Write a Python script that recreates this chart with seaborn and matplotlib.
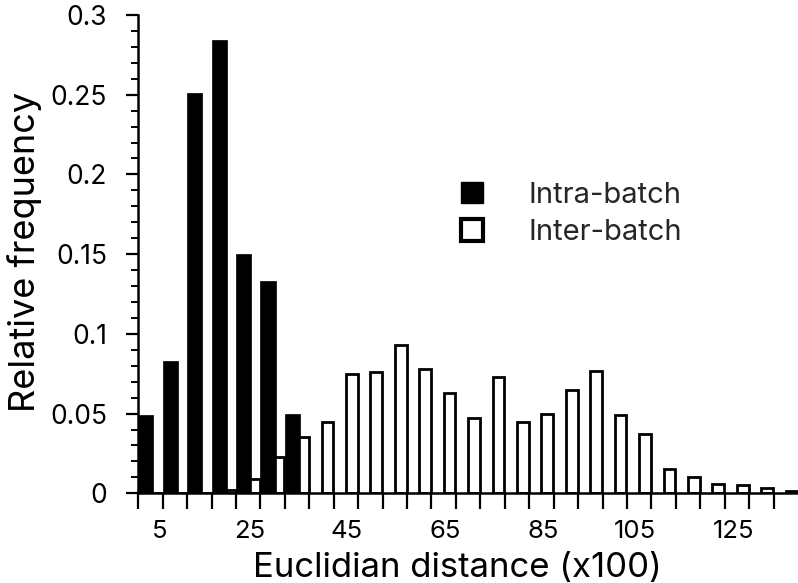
import matplotlib
matplotlib.use("Agg")
import matplotlib.pyplot as plt
from matplotlib.patches import Patch
from matplotlib.ticker import FixedLocator, MultipleLocator, FuncFormatter
from matplotlib.transforms import ScaledTranslation
import pandas as pd
import seaborn as sns

# Lower edge of each 5-unit distance bin (Euclidian distance x100)
bin_start = [0, 5, 10, 15, 20, 25, 30, 35, 40, 45, 50, 55, 60, 65,
             70, 75, 80, 85, 90, 95, 100, 105, 110, 115, 120, 125, 130]

# Relative frequency of pairwise distances within one batch
intra_batch = [0.049, 0.083, 0.251, 0.284, 0.150, 0.133, 0.050, 0, 0, 0,
               0, 0, 0, 0, 0, 0, 0, 0, 0, 0, 0, 0, 0, 0, 0, 0, 0]

# Relative frequency of pairwise distances between batches
inter_batch = [0, 0, 0, 0.002, 0.009, 0.023, 0.035, 0.045, 0.075, 0.076,
               0.093, 0.078, 0.063, 0.047, 0.073, 0.045, 0.050, 0.065,
               0.077, 0.049, 0.037, 0.015, 0.010, 0.006, 0.005, 0.003, 0.0015]

x_labels = [5, 25, 45, 65, 85, 105, 125]
series_names = ["Intra-batch", "Inter-batch"]

sns.set_theme(style="ticks")
plt.rcParams["font.family"] = ["Inter", "DejaVu Sans"]

BIN = 5.0
INTRA_W = 3.1      # filled bar sits at the left of its bin
INTER_W = 2.4      # open bar sits at the right of its bin

df_intra = pd.DataFrame({"pos": [s + INTRA_W / 2 for s in bin_start],
                         "freq": intra_batch})
df_inter = pd.DataFrame({"pos": [s + BIN - 0.1 - INTER_W / 2 for s in bin_start],
                         "freq": inter_batch})

fig = plt.figure(figsize=(7.98, 5.83), dpi=100)
ax = fig.add_axes([0.1733, 0.1539, 0.8267, 0.8204])

sns.barplot(data=df_inter, x="pos", y="freq", native_scale=True,
            width=INTER_W / BIN, color="white", saturation=1,
            edgecolor="black", linewidth=2.0, errorbar=None,
            ax=ax, zorder=2)
sns.barplot(data=df_intra, x="pos", y="freq", native_scale=True,
            width=INTRA_W / BIN, color="black", saturation=1,
            edgecolor="black", linewidth=0.5, errorbar=None,
            ax=ax, zorder=3)

ax.set_xlim(0, 135)
ax.set_ylim(0, 0.3)

sns.despine(ax=ax)
for side in ("left", "bottom"):
    ax.spines[side].set_linewidth(1.8)
    ax.spines[side].set_color("black")

ax.xaxis.set_major_locator(FixedLocator(bin_start))
ax.xaxis.set_major_formatter(
    FuncFormatter(lambda v, _: f"{int(round(v))}" if int(round(v)) in x_labels else ""))
ax.yaxis.set_major_locator(MultipleLocator(0.05))
ax.yaxis.set_minor_locator(MultipleLocator(0.01))
ax.yaxis.set_major_formatter(FuncFormatter(lambda v, _: f"{v:g}"))

ax.tick_params(axis="x", which="major", length=11.5, width=1.6, direction="out",
               color="black", labelsize=18.5, labelcolor="black", pad=8)
ax.tick_params(axis="y", which="major", length=9, width=1.6, direction="out",
               color="black", labelsize=19, labelcolor="black", pad=13.5)
ax.tick_params(axis="y", which="minor", length=5, width=1.4, direction="out",
               color="black")

# numbers sit slightly to the right of their tick, as in typeset plots
shift = ScaledTranslation(5 / 100, 0, fig.dpi_scale_trans)
for lab in ax.get_xticklabels():
    lab.set_horizontalalignment("right")
    lab.set_transform(lab.get_transform() + shift)

ax.set_xlabel("Euclidian distance (x100)", fontsize=25, color="black")
ax.set_ylabel("Relative frequency", fontsize=26, color="black")
ax.xaxis.set_label_coords(0.484, -0.122)
ax.yaxis.set_label_coords(-0.146, 0.505)

handles = [Patch(facecolor="black", edgecolor="black", linewidth=1),
           Patch(facecolor="white", edgecolor="black", linewidth=3)]
ax.legend(handles, series_names, loc="upper left",
          bbox_to_anchor=(461 / 798, 1 - 182 / 583), bbox_transform=fig.transFigure,
          frameon=False, fontsize=21, handlelength=0.76, handleheight=0.74,
          handletextpad=1.55, labelspacing=0.35, borderpad=0, borderaxespad=0)

fig.savefig("out.png", dpi=100)
